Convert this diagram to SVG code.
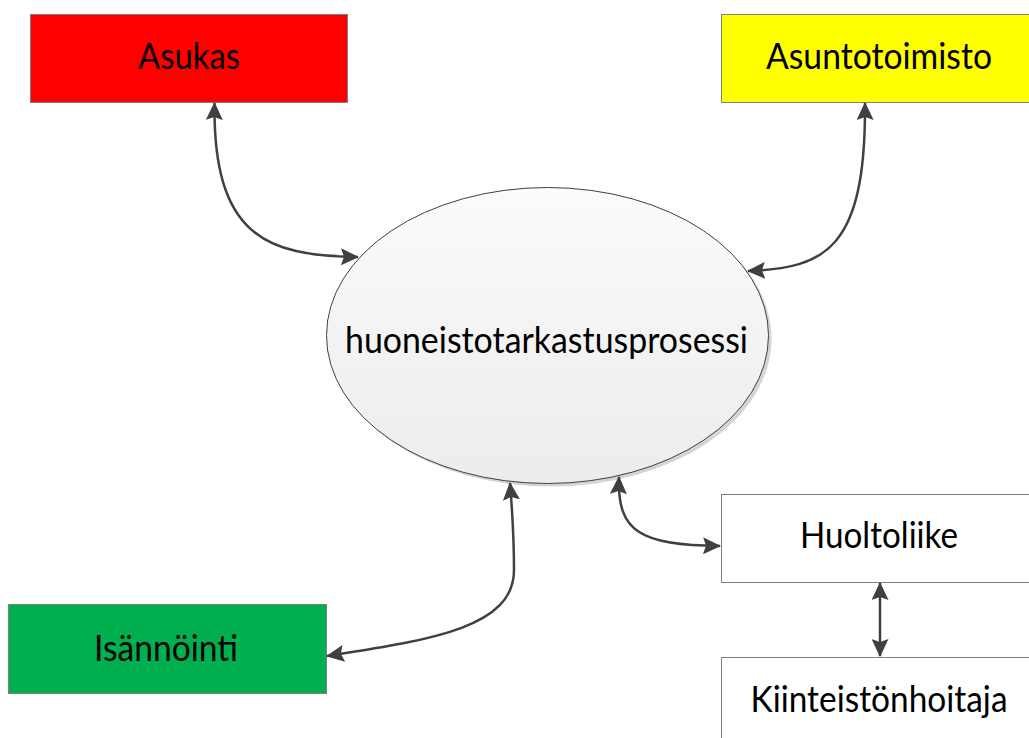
<svg xmlns="http://www.w3.org/2000/svg" width="1029" height="738" viewBox="0 0 1029 738">
<style>
.box{stroke:#7f7f7f;stroke-width:1}
.lbl{font-family:Lato,"Liberation Sans",sans-serif;font-size:36px;fill:#000;text-anchor:middle}
.con{fill:none;stroke:#404040;stroke-width:2.5}
</style>
<defs>
<linearGradient id="eg" x1="0" y1="0" x2="0" y2="1">
<stop offset="0" stop-color="#fbfbfb"/>
<stop offset="1" stop-color="#ececec"/>
</linearGradient>
<marker id="ah" viewBox="0 0 18 17" refX="17" refY="8.5" markerWidth="18" markerHeight="17" markerUnits="userSpaceOnUse" orient="auto-start-reverse">
<path d="M0,0 L18,8.5 L0,17 L3,8.5 Z" fill="#404040"/>
</marker>
</defs>
<rect width="1029" height="738" fill="#fff"/>
<g id="asukas">
<rect class="box" x="30.5" y="14.5" width="317" height="88" fill="#ff0000"/>
<text class="lbl" x="189" y="69" textLength="102" lengthAdjust="spacingAndGlyphs">Asukas</text>
</g>
<g id="asuntotoimisto">
<rect class="box" x="721.5" y="14.5" width="320" height="88" fill="#ffff00"/>
<text class="lbl" x="879" y="69" textLength="226" lengthAdjust="spacingAndGlyphs">Asuntotoimisto</text>
</g>
<g id="prosessi">
<ellipse cx="550.5" cy="338.5" rx="221" ry="148" fill="#d4d4d4"/>
<ellipse cx="547.5" cy="335.5" rx="221" ry="148" fill="url(#eg)" stroke="#404040" stroke-width="1"/>
<text class="lbl" x="546.5" y="353" textLength="403" lengthAdjust="spacingAndGlyphs">huoneistotarkastusprosessi</text>
</g>
<g id="isannointi">
<rect class="box" x="8.5" y="604.5" width="318" height="89" fill="#00b050"/>
<text class="lbl" x="166" y="661" textLength="144" lengthAdjust="spacingAndGlyphs">Isännöinti</text>
</g>
<g id="huoltoliike">
<rect class="box" x="721.5" y="494.5" width="320" height="88" fill="#fff"/>
<text class="lbl" x="879" y="548" textLength="158" lengthAdjust="spacingAndGlyphs">Huoltoliike</text>
</g>
<g id="kiinteistonhoitaja">
<rect class="box" x="721.5" y="657.5" width="320" height="100" fill="#fff"/>
<text class="lbl" x="879" y="712" textLength="257" lengthAdjust="spacingAndGlyphs">Kiinteistönhoitaja</text>
</g>
<g id="connectors">
<path class="con" d="M214.5,103 C213,235 265,256 358,257" marker-start="url(#ah)" marker-end="url(#ah)"/>
<path class="con" d="M865,103 C866,250 825,268 748,271" marker-start="url(#ah)" marker-end="url(#ah)"/>
<path class="con" d="M510,483 C513,520 514,545 514,570 C514,628 430,640 327,656" marker-start="url(#ah)" marker-end="url(#ah)"/>
<path class="con" d="M619,477 C617,532 640,545 720,546" marker-start="url(#ah)" marker-end="url(#ah)"/>
<path class="con" d="M880,583 L880,656" marker-start="url(#ah)" marker-end="url(#ah)"/>
</g>
</svg>
